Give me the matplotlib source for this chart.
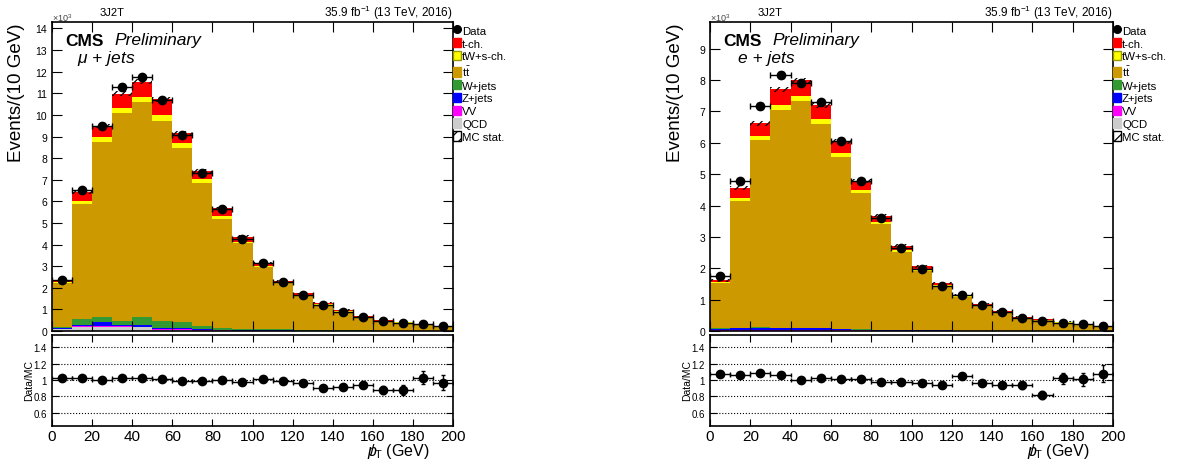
import matplotlib
matplotlib.use('Agg')
import matplotlib.pyplot as plt
import numpy as np
from matplotlib.patches import Patch
from matplotlib.lines import Line2D

plt.rcParams['font.family'] = ['Liberation Sans', 'DejaVu Sans']
plt.rcParams['mathtext.fontset'] = 'custom'
plt.rcParams['mathtext.rm'] = 'Liberation Sans'
plt.rcParams['mathtext.it'] = 'Liberation Sans:italic'
plt.rcParams['hatch.linewidth'] = 0.9

# bin edges in GeV, values in units of 10^3 events
edges = np.arange(0, 210, 10)

# mu + jets
qcd_mu = [0.10, 0.20, 0.20, 0.20, 0.17, 0.06, 0.05, 0.02, 0.02, 0.01, 0.01, 0.01, 0.0, 0.0, 0.0, 0.0, 0.0, 0.0, 0.0, 0.0]
vv_mu = [0.01, 0.02, 0.02, 0.02, 0.02, 0.04, 0.03, 0.02, 0.01, 0.01, 0.01, 0.01, 0.01, 0.01, 0.01, 0.01, 0.01, 0.01, 0.01, 0.01]
zj_mu = [0.04, 0.07, 0.18, 0.07, 0.07, 0.05, 0.06, 0.04, 0.03, 0.02, 0.01, 0.01, 0.005, 0.005, 0.0, 0.0, 0.0, 0.0, 0.0, 0.0]
wj_mu = [0.02, 0.25, 0.25, 0.18, 0.40, 0.30, 0.26, 0.16, 0.08, 0.06, 0.05, 0.04, 0.03, 0.03, 0.02, 0.02, 0.01, 0.01, 0.01, 0.01]
tt_mu = [2.03, 5.36, 8.10, 9.63, 9.94, 9.27, 8.06, 6.63, 5.06, 3.95, 2.87, 2.13, 1.575, 1.155, 0.87, 0.61, 0.45, 0.37, 0.27, 0.19]
tw_mu = [0.05, 0.12, 0.22, 0.24, 0.25, 0.26, 0.23, 0.15, 0.12, 0.08, 0.06, 0.04, 0.03, 0.03, 0.02, 0.01, 0.01, 0.01, 0.005, 0.005]
tch_mu = [0.06, 0.41, 0.52, 0.65, 0.69, 0.74, 0.49, 0.39, 0.36, 0.24, 0.15, 0.07, 0.09, 0.08, 0.05, 0.04, 0.03, 0.02, 0.015, 0.015]
mcerr_mu = [0.05, 0.08, 0.10, 0.12, 0.12, 0.10, 0.09, 0.08, 0.07, 0.06, 0.05, 0.04, 0.035, 0.03, 0.025, 0.02, 0.02, 0.015, 0.015, 0.01]
data_mu = [2.36, 6.53, 9.49, 11.31, 11.74, 10.69, 9.09, 7.30, 5.66, 4.24, 3.16, 2.28, 1.67, 1.19, 0.88, 0.65, 0.46, 0.37, 0.31, 0.23]
ratio_mu = [1.02, 1.02, 1.0, 1.03, 1.02, 1.01, 0.99, 0.985, 1.0, 0.975, 1.01, 0.99, 0.96, 0.9, 0.915, 0.94, 0.875, 0.88, 1.03, 0.97]
ratio_err_mu = [0.01, 0.01, 0.01, 0.01, 0.01, 0.01, 0.01, 0.01, 0.01, 0.015, 0.015, 0.02, 0.02, 0.025, 0.03, 0.04, 0.05, 0.06, 0.08, 0.09]

# e + jets
qcd_e = [0.01, 0.01, 0.01, 0.01, 0.01, 0.01, 0.01, 0.0, 0.0, 0.0, 0.0, 0.0, 0.0, 0.0, 0.0, 0.0, 0.0, 0.0, 0.0, 0.0]
vv_e = [0.02, 0.03, 0.03, 0.03, 0.03, 0.02, 0.02, 0.02, 0.01, 0.01, 0.01, 0.01, 0.01, 0.01, 0.005, 0.005, 0.005, 0.005, 0.005, 0.005]
zj_e = [0.03, 0.05, 0.07, 0.05, 0.05, 0.06, 0.03, 0.02, 0.02, 0.01, 0.01, 0.01, 0.0, 0.0, 0.0, 0.0, 0.0, 0.0, 0.0, 0.0]
wj_e = [0.02, 0.01, 0.01, 0.01, 0.01, 0.01, 0.01, 0.01, 0.0, 0.0, 0.0, 0.0, 0.0, 0.0, 0.0, 0.0, 0.0, 0.0, 0.0, 0.0]
tt_e = [1.44, 4.05, 5.98, 6.95, 7.22, 6.50, 5.47, 4.35, 3.37, 2.50, 1.90, 1.41, 1.07, 0.81, 0.595, 0.415, 0.335, 0.265, 0.19, 0.145]
tw_e = [0.04, 0.08, 0.13, 0.16, 0.17, 0.16, 0.14, 0.10, 0.08, 0.06, 0.05, 0.04, 0.03, 0.02, 0.01, 0.01, 0.01, 0.005, 0.005, 0.003]
tch_e = [0.06, 0.32, 0.40, 0.49, 0.50, 0.43, 0.36, 0.29, 0.19, 0.14, 0.09, 0.07, 0.05, 0.03, 0.03, 0.02, 0.02, 0.015, 0.01, 0.007]
mcerr_e = [0.05, 0.07, 0.08, 0.09, 0.09, 0.08, 0.07, 0.06, 0.05, 0.045, 0.04, 0.03, 0.03, 0.025, 0.02, 0.02, 0.015, 0.015, 0.01, 0.01]
data_e = [1.74, 4.77, 7.17, 8.15, 7.90, 7.29, 6.07, 4.79, 3.60, 2.65, 1.97, 1.44, 1.14, 0.82, 0.59, 0.43, 0.31, 0.27, 0.21, 0.16]
ratio_e = [1.08, 1.06, 1.085, 1.065, 1.0, 1.02, 1.015, 1.01, 0.98, 0.975, 0.96, 0.935, 1.045, 0.96, 0.94, 0.935, 0.82, 1.02, 1.01, 1.08]
ratio_err_e = [0.01, 0.01, 0.01, 0.01, 0.01, 0.01, 0.01, 0.01, 0.01, 0.015, 0.015, 0.02, 0.02, 0.03, 0.04, 0.04, 0.05, 0.07, 0.08, 0.1]

labels = ['Data', 't-ch.', 'tW+s-ch.', r'$\mathrm{t\bar{t}}$', 'W+jets', 'Z+jets', 'VV', 'QCD', 'MC stat.']
colors = {'tch': '#ff0000', 'tw': '#ffff00', 'tt': '#cc9900', 'wj': '#339933',
          'zj': '#0000ff', 'vv': '#ff00ff', 'qcd': '#cccccc'}

W, H = 1178, 464
fig = plt.figure(figsize=(W / 100, H / 100), dpi=100)


def px(x0, y0, x1, y1):
    # pixel box -> figure fraction rect
    return [x0 / W, 1 - y1 / H, (x1 - x0) / W, (y1 - y0) / H]


def style_ticks(ax, xlabels):
    ax.tick_params(which='both', direction='in', top=True, right=True,
                   labelsize=7.5, width=0.8)
    ax.tick_params(which='major', length=7)
    ax.tick_params(axis='x', labelbottom=xlabels, labelsize=11, pad=2)
    for s in ax.spines.values():
        s.set_linewidth(1.2)


def draw_panel(x0, x1, comps, mcerr, data, ratio, rerr, ymax, yticks, channel):
    ax = fig.add_axes(px(x0, 23, x1, 332))
    rax = fig.add_axes(px(x0, 336, x1, 427))
    centers = edges[:-1] + 5

    base = np.zeros(len(centers))
    for key, vals in comps:
        vals = np.array(vals)
        ax.stairs(base + vals, edges, baseline=base, fill=True,
                  color=colors[key], lw=0)
        base = base + vals
    total = base

    ax.bar(centers, 2 * np.array(mcerr), bottom=total - np.array(mcerr), width=10,
           fill=False, hatch='////', edgecolor='black', linewidth=0)
    ax.errorbar(centers, data, xerr=5, yerr=np.sqrt(np.array(data) / 1000.0),
                fmt='o', color='black', ms=6, elinewidth=1, capsize=2)

    ax.set_xlim(0, 200)
    ax.set_ylim(0, ymax)
    ax.set_yticks(yticks)
    ax.set_xticks(np.arange(0, 201, 20))
    style_ticks(ax, False)

    rax.errorbar(centers, ratio, xerr=5, yerr=rerr, fmt='o', color='black',
                 ms=6, elinewidth=1, capsize=1.5)
    for yv in [0.6, 0.8, 1.0, 1.2, 1.4]:
        rax.axhline(yv, color='black', ls=':', lw=0.8, zorder=0)
    rax.set_xlim(0, 200)
    rax.set_ylim(0.44, 1.55)
    rax.set_yticks([0.6, 0.8, 1.0, 1.2, 1.4])
    rax.set_yticklabels(['0.6', '0.8', '1', '1.2', '1.4'])
    rax.set_xticks(np.arange(0, 201, 20))
    style_ticks(rax, True)
    rax.tick_params(which='major', length=5)
    rax.tick_params(axis='y', labelsize=7)

    # texts
    fig.text(x0 / W, 1 - 18 / H, r'$\times$10$^{3}$', fontsize=6.5, color='#444444', va='center')
    fig.text((x0 + 48) / W, 1 - 13 / H, '3J2T', fontsize=8, va='center')
    fig.text(x1 / W, 1 - 13 / H, r'35.9 fb$^{-1}$ (13 TeV, 2016)', fontsize=8.5,
             ha='right', va='center')
    fig.text((x0 + 13) / W, 1 - 41 / H, 'CMS', fontsize=12.5, fontweight='bold', va='center')
    fig.text((x0 + 62) / W, 1 - 41 / H, 'Preliminary', fontsize=12.5, style='italic', va='center')
    fig.text((x0 + channel[1]) / W, 1 - 59 / H, channel[0], fontsize=12.5, style='italic', va='center')
    fig.text((x0 - 35) / W, 1 - 23 / H, 'Events/(10 GeV)', fontsize=13.5, rotation=90,
             ha='center', va='top')
    fig.text((x0 - 23) / W, 1 - 381 / H, 'Data/MC', fontsize=7.5, rotation=90,
             ha='center', va='center')
    fig.text((x1 - 23) / W, 1 - 452 / H, r'$p\!\!\!/_{\mathrm{T}}$ (GeV)', fontsize=11.5,
             ha='right', va='center')

    handles = [Line2D([], [], marker='o', color='black', ls='none', ms=5.5),
               Patch(facecolor=colors['tch'], edgecolor=colors['tch']),
               Patch(facecolor=colors['tw'], edgecolor='#999900', lw=1),
               Patch(facecolor=colors['tt'], edgecolor=colors['tt']),
               Patch(facecolor=colors['wj'], edgecolor=colors['wj']),
               Patch(facecolor=colors['zj'], edgecolor=colors['zj']),
               Patch(facecolor=colors['vv'], edgecolor=colors['vv']),
               Patch(facecolor=colors['qcd'], edgecolor=colors['qcd']),
               Patch(facecolor='white', edgecolor='black', hatch='///', lw=1)]
    ax.legend(handles, labels, loc='upper left', bbox_to_anchor=(1.0, 0.99),
              frameon=False, fontsize=8.2, borderaxespad=0, borderpad=0,
              handlelength=0.7, handleheight=0.9, handletextpad=0.1,
              labelspacing=0.19)


comps_mu = [('qcd', qcd_mu), ('vv', vv_mu), ('zj', zj_mu), ('wj', wj_mu),
            ('tt', tt_mu), ('tw', tw_mu), ('tch', tch_mu)]
comps_e = [('qcd', qcd_e), ('vv', vv_e), ('zj', zj_e), ('wj', wj_e),
           ('tt', tt_e), ('tw', tw_e), ('tch', tch_e)]

draw_panel(52, 453, comps_mu, mcerr_mu, data_mu, ratio_mu, ratio_err_mu,
           14.3, range(0, 15), (r'$\mu$ + jets', 25))
draw_panel(710, 1113, comps_e, mcerr_e, data_e, ratio_e, ratio_err_e,
           9.85, range(0, 10), ('e + jets', 28))

fig.savefig('out.png', dpi=100)
